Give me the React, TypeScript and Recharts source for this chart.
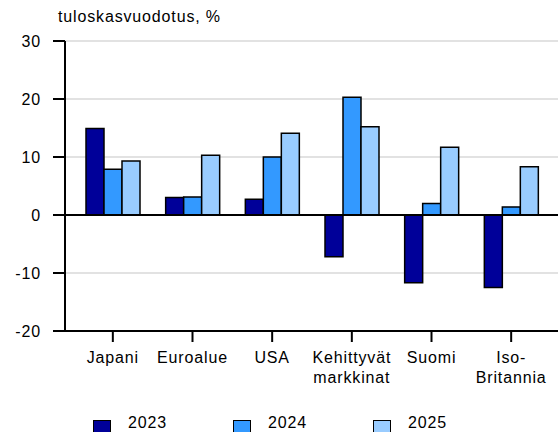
import React from 'react';
import { BarChart, Bar, XAxis, YAxis, CartesianGrid, ReferenceLine, Legend } from 'recharts';

const categories = ['Japani', 'Euroalue', 'USA', 'Kehittyvät\nmarkkinat', 'Suomi', 'Iso-\nBritannia'];
const years = ['2023', '2024', '2025'];
const values2023 = [14.9, 3.0, 2.7, -7.2, -11.7, -12.5];
const values2024 = [7.9, 3.1, 10.0, 20.3, 2.0, 1.4];
const values2025 = [9.3, 10.3, 14.1, 15.2, 11.7, 8.3];
const yTicks = [-20, -10, 0, 10, 20, 30];

const colors = ['#000099', '#3399FF', '#99CCFF'];
const font = '"Liberation Sans", Arial, sans-serif';

const data = categories.map((name, i) => ({
  name,
  '2023': values2023[i],
  '2024': values2024[i],
  '2025': values2025[i],
}));

const CategoryTick = ({ x, y, payload }: any) => {
  const lines = String(payload.value).split('\n');
  return (
    <g transform={`translate(${x},${y})`}>
      <text textAnchor="middle" fontSize={16} fontFamily={font} letterSpacing={0.85} fill="#000">
        {lines.map((line, i) => (
          <tspan key={i} x={0} dy={i === 0 ? '0.71em' : 20}>
            {line}
          </tspan>
        ))}
      </text>
    </g>
  );
};

const YearLegend = () => (
  <div style={{ position: 'relative', height: 30, width: 558 }}>
    {years.map((year, i) => (
      <div key={year}>
        <div
          style={{
            position: 'absolute',
            left: 93 + i * 140,
            top: 18,
            width: 16,
            height: 16,
            background: colors[i],
            border: '1.5px solid #000',
          }}
        />
        <div
          style={{
            position: 'absolute',
            left: 128 + i * 140,
            top: 13,
            fontSize: 16,
            lineHeight: '16px',
            letterSpacing: 0.85,
            fontFamily: font,
            color: '#000',
          }}
        >
          {year}
        </div>
      </div>
    ))}
  </div>
);

export default function App() {
  return (
    <div style={{ position: 'absolute', left: 0, top: 0, width: 558, height: 432, background: '#fff' }}>
      <div
        style={{
          position: 'absolute',
          left: 58,
          top: 8,
          fontSize: 16,
          letterSpacing: 0.85,
          fontFamily: font,
          color: '#000',
          whiteSpace: 'nowrap',
        }}
      >
        tuloskasvuodotus, %
      </div>
      <BarChart
        width={558}
        height={432}
        data={data}
        margin={{ top: 41, right: 0, bottom: 0, left: 0 }}
        barCategoryGap={13}
        barGap={0}
      >
        <CartesianGrid vertical={false} stroke="#d9d9d9" strokeWidth={1.5} />
        <XAxis
          dataKey="name"
          height={71}
          padding={{ left: 8, right: 7 }}
          axisLine={{ stroke: '#000', strokeWidth: 2 }}
          tickLine={{ stroke: '#000', strokeWidth: 2 }}
          tickSize={11}
          tickMargin={10}
          tick={<CategoryTick />}
          interval={0}
        />
        <YAxis
          width={65}
          domain={[-20, 30]}
          ticks={yTicks}
          interval={0}
          axisLine={{ stroke: '#000', strokeWidth: 2 }}
          tickLine={{ stroke: '#000', strokeWidth: 2 }}
          tickSize={12}
          tickMargin={12}
          tick={{ fill: '#000', fontSize: 16, fontFamily: font, letterSpacing: 0.85 }}
        />
        {years.map((year, i) => (
          <Bar
            key={year}
            dataKey={year}
            fill={colors[i]}
            stroke="#000"
            strokeWidth={1.5}
            isAnimationActive={false}
          />
        ))}
        <ReferenceLine y={0} stroke="#000" strokeWidth={2} />
        <Legend verticalAlign="bottom" content={<YearLegend />} />
      </BarChart>
    </div>
  );
}
